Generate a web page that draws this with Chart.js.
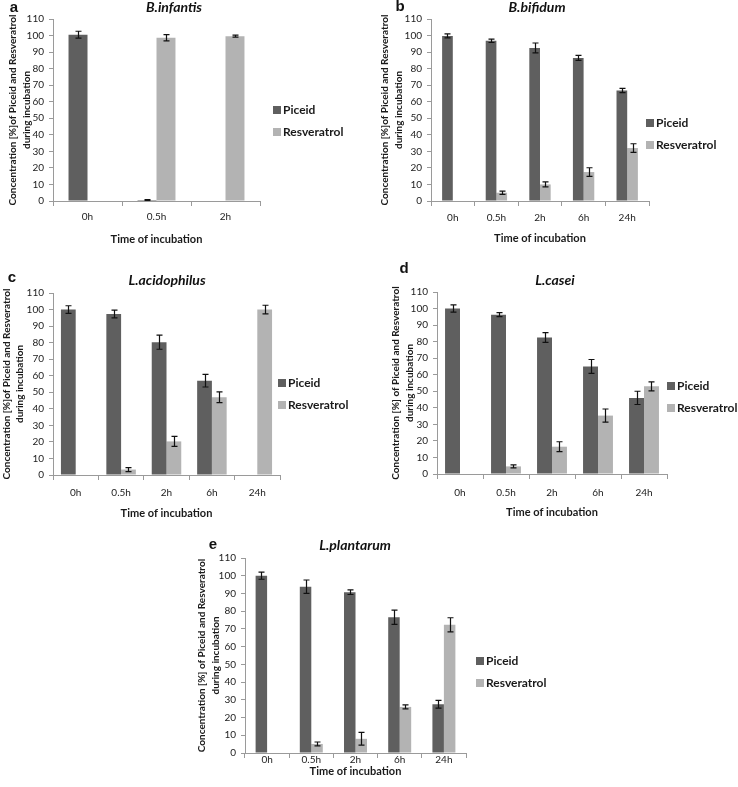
<!DOCTYPE html>
<html>
<head>
<meta charset="utf-8">
<script src="https://cdn.jsdelivr.net/npm/chart.js@4.4.0/dist/chart.umd.min.js"></script>
<style>
html,body{margin:0;padding:0;background:#fff;}
#wrap{position:relative;width:738px;height:787px;overflow:hidden;background:#fff;}
#wrap canvas{position:absolute;}
</style>
</head>
<body>
<div id="wrap"></div>
<script>
// ---------- DATA ----------
const timesA = ['0h', '0.5h', '2h'];
const timesAll = ['0h', '0.5h', '2h', '6h', '24h'];
const seriesNames = ['Piceid', 'Resveratrol'];

const piceidA = [100.5, 0.6, null];
const piceidErrA = [2.1, 0.2, null];
const resveratrolA = [null, 98.7, 99.6];
const resveratrolErrA = [null, 1.9, 0.6];

const piceidB = [99.8, 96.8, 92.5, 86.5, 66.8];
const piceidErrB = [1.2, 1.0, 3.0, 1.5, 1.3];
const resveratrolB = [null, 5.0, 10.0, 17.5, 32.0];
const resveratrolErrB = [null, 1.0, 1.5, 2.6, 2.6];

const piceidC = [100.0, 97.3, 80.3, 57.0, null];
const piceidErrC = [2.3, 2.3, 4.3, 3.8, null];
const resveratrolC = [null, 3.3, 20.3, 47.0, 100.0];
const resveratrolErrC = [null, 1.2, 3.0, 3.2, 2.6];

const piceidD = [100.0, 96.3, 82.5, 65.0, 46.0];
const piceidErrD = [2.2, 1.2, 3.0, 4.2, 4.0];
const resveratrolD = [null, 4.6, 16.5, 35.3, 53.0];
const resveratrolErrD = [null, 0.9, 3.0, 4.0, 2.7];

const piceidE = [100.0, 93.8, 90.7, 76.6, 27.5];
const piceidErrE = [2.0, 3.8, 1.3, 4.0, 2.2];
const resveratrolE = [null, 5.1, 8.0, 26.0, 72.3];
const resveratrolErrE = [null, 1.1, 3.6, 1.1, 4.0];

const yTitleOld = ['Concentration [%]of Piceid and Resveratrol', 'during incubation'];
const yTitleNew = ['Concentration [%] of Piceid and Resveratrol', 'during incubation'];
const xTitle = 'Time of incubation';

// ---------- STYLE / LAYOUT ----------
const COL_PICEID = '#5f5f5f';
const COL_RESV = '#b3b3b3';
const AXIS_COL = '#9a9a9a';
const FONT = 'Lato';
Chart.defaults.font.family = FONT;
const X_TITLE_SIZE = 11;
const X_TITLE_LH = 1.2;

const panels = [
  { letter: 'a', title: 'B.infantis', labels: timesA,
    p: piceidA, pe: piceidErrA, r: resveratrolA, re: resveratrolErrA, yTitle: yTitleOld,
    box: { left: 0, top: 0, w: 369, h: 252 },
    area: { left: 53, top: 19, right: 260, bottom: 201 },
    cat: 0.55, yTitlePad: 6.25, xLabelPad: 5, xTitleOff: 38,
    letterPos: [14, 8], titlePos: [174, 7], legendPos: [273, 110] },
  { letter: 'b', title: 'B.bifidum', labels: timesAll,
    p: piceidB, pe: piceidErrB, r: resveratrolB, re: resveratrolErrB, yTitle: yTitleOld,
    box: { left: 369, top: 0, w: 369, h: 252 },
    area: { left: 62, top: 19, right: 280, bottom: 201 },
    cat: 0.49, yTitlePad: 9.25, xLabelPad: 6, xTitleOff: 37,
    letterPos: [31, 7], titlePos: [168, 7], legendPos: [277, 123] },
  { letter: 'c', title: 'L.acidophilus', labels: timesAll,
    p: piceidC, pe: piceidErrC, r: resveratrolC, re: resveratrolErrC, yTitle: yTitleOld,
    box: { left: 0, top: 262, w: 369, h: 266 },
    area: { left: 53, top: 31, right: 280, bottom: 213 },
    cat: 0.65, yTitlePad: 0, xLabelPad: 7, xTitleOff: 38,
    letterPos: [12, 16], titlePos: [167, 18], legendPos: [278, 121] },
  { letter: 'd', title: 'L.casei', labels: timesAll,
    p: piceidD, pe: piceidErrD, r: resveratrolD, re: resveratrolErrD, yTitle: yTitleNew,
    box: { left: 369, top: 262, w: 369, h: 266 },
    area: { left: 68, top: 30, right: 298, bottom: 212 },
    cat: 0.65, yTitlePad: 20.25, xLabelPad: 8, xTitleOff: 38,
    letterPos: [35, 7], titlePos: [186, 18], legendPos: [298, 124] },
  { letter: 'e', title: 'L.plantarum', labels: timesAll,
    p: piceidE, pe: piceidErrE, r: resveratrolE, re: resveratrolErrE, yTitle: yTitleNew,
    box: { left: 180, top: 530, w: 380, h: 257 },
    area: { left: 65, top: 28, right: 286, bottom: 223 },
    cat: 0.52, yTitlePad: 15.25, xLabelPad: -4, xTitleOff: 18.5,
    letterPos: [33, 15], titlePos: [175, 15], legendPos: [296, 131] }
];

// ---------- PLUGINS ----------
const errorBarPlugin = {
  id: 'errorBars',
  afterDatasetsDraw(chart) {
    const ctx = chart.ctx;
    const ys = chart.scales.y;
    chart.data.datasets.forEach((ds, i) => {
      if (!ds.errors) return;
      const meta = chart.getDatasetMeta(i);
      meta.data.forEach((bar, j) => {
        const v = ds.data[j], e = ds.errors[j];
        if (v == null || e == null) return;
        const x = Math.round(bar.x) + 0.5;
        const y1 = ys.getPixelForValue(v + e);
        const y2 = ys.getPixelForValue(v - e);
        ctx.save();
        ctx.strokeStyle = '#111';
        ctx.lineWidth = 1.2;
        ctx.beginPath();
        ctx.moveTo(x, y1); ctx.lineTo(x, y2);
        ctx.moveTo(x - 3, y1); ctx.lineTo(x + 3, y1);
        ctx.moveTo(x - 3, y2); ctx.lineTo(x + 3, y2);
        ctx.stroke();
        ctx.restore();
      });
    });
  }
};

const decorPlugin = {
  id: 'decor',
  afterDraw(chart, args, opts) {
    const ctx = chart.ctx;
    ctx.save();
    ctx.fillStyle = '#111';
    ctx.font = 'bold 15px "Liberation Sans"';
    ctx.textAlign = 'center';
    ctx.textBaseline = 'middle';
    ctx.fillText(opts.letter, opts.letterPos[0], opts.letterPos[1]);
    ctx.font = 'italic bold 14px ' + FONT;
    ctx.fillText(opts.title, opts.titlePos[0], opts.titlePos[1]);
    ctx.textAlign = 'left';
    ctx.font = 'bold 12px ' + FONT;
    chart.data.datasets.forEach((ds, i) => {
      const lx = opts.legendPos[0];
      const ly = opts.legendPos[1] + i * 22;
      ctx.fillStyle = ds.backgroundColor;
      ctx.fillRect(lx, ly - 4, 8, 8);
      ctx.fillStyle = '#1a1a1a';
      ctx.fillText(ds.label, lx + 10, ly + 0.5);
    });
    ctx.restore();
  }
};

// ---------- BUILD ----------
const wrap = document.getElementById('wrap');
panels.forEach((pn) => {
  const cv = document.createElement('canvas');
  cv.width = pn.box.w; cv.height = pn.box.h;
  cv.style.left = pn.box.left + 'px';
  cv.style.top = pn.box.top + 'px';
  cv.style.width = pn.box.w + 'px';
  cv.style.height = pn.box.h + 'px';
  wrap.appendChild(cv);

  const xHeight = pn.xTitleOff + X_TITLE_SIZE * X_TITLE_LH / 2;
  new Chart(cv.getContext('2d'), {
    type: 'bar',
    data: {
      labels: pn.labels,
      datasets: [
        { label: seriesNames[0], data: pn.p, errors: pn.pe, backgroundColor: COL_PICEID,
          barPercentage: 1, categoryPercentage: pn.cat },
        { label: seriesNames[1], data: pn.r, errors: pn.re, backgroundColor: COL_RESV,
          barPercentage: 1, categoryPercentage: pn.cat }
      ]
    },
    options: {
      responsive: false,
      animation: false,
      devicePixelRatio: 1,
      layout: {
        padding: {
          left: 0,
          top: pn.area.top,
          right: pn.box.w - pn.area.right,
          bottom: pn.box.h - pn.area.bottom - xHeight
        }
      },
      plugins: {
        legend: { display: false },
        title: { display: false },
        tooltip: { enabled: false },
        decor: { letter: pn.letter, title: pn.title, letterPos: pn.letterPos,
                 titlePos: pn.titlePos, legendPos: pn.legendPos }
      },
      scales: {
        x: {
          offset: true,
          grid: { display: true, offset: true, drawOnChartArea: false, drawTicks: true,
                  tickLength: 5, color: AXIS_COL },
          border: { display: true, color: AXIS_COL, width: 1 },
          ticks: { color: '#222', font: { size: 10, family: FONT }, padding: pn.xLabelPad,
                   maxRotation: 0, autoSkip: false },
          title: { display: true, text: xTitle, color: '#1a1a1a',
                   font: { size: X_TITLE_SIZE, weight: 'bold', family: FONT, lineHeight: X_TITLE_LH },
                   padding: { top: 0, bottom: 0 } },
          afterFit: (s) => { s.height = xHeight; }
        },
        y: {
          min: 0, max: 110,
          ticks: { stepSize: 10, color: '#222', font: { size: 10, family: FONT }, padding: 5 },
          grid: { display: true, drawOnChartArea: false, drawTicks: true, tickLength: 4, color: AXIS_COL },
          border: { display: true, color: AXIS_COL, width: 1 },
          title: { display: true, text: pn.yTitle, color: '#1a1a1a',
                   font: { size: 10, weight: 'bold', family: FONT, lineHeight: 1.35 },
                   padding: { top: pn.yTitlePad, bottom: 0 } },
          afterFit: (s) => { s.width = pn.area.left; }
        }
      }
    },
    plugins: [errorBarPlugin, decorPlugin]
  });
});
</script>
</body>
</html>
